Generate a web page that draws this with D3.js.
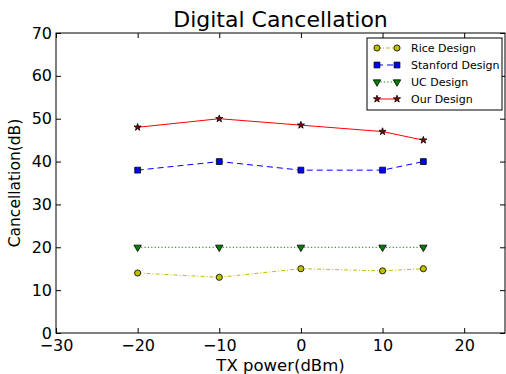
<!DOCTYPE html>
<html>
<head>
<meta charset="utf-8">
<script src="https://cdn.jsdelivr.net/npm/d3@7"></script>
<style>
  body { margin: 0; background: #fff; }
  text { font-family: "DejaVu Sans", sans-serif; }
</style>
</head>
<body>
<svg id="chart" width="506" height="374"></svg>
<script>
// data
const txPower = [-20, -10, 0, 10, 15];
const riceDesign = [14, 13, 15, 14.5, 15];
const stanfordDesign = [38, 40, 38, 38, 40];
const ucDesign = [20, 20, 20, 20, 20];
const ourDesign = [48, 50, 48.5, 47, 45];
const xTicks = [-30, -20, -10, 0, 10, 20];
const yTicks = [0, 10, 20, 30, 40, 50, 60, 70];

const series = [
  {name: "Rice Design", values: riceDesign, color: "#bfbf00", dash: "4,2,1,2", marker: "circle"},
  {name: "Stanford Design", values: stanfordDesign, color: "#0000ff", dash: "6,4", marker: "square"},
  {name: "UC Design", values: ucDesign, color: "#008000", dash: "1.2,2.2", marker: "triangle"},
  {name: "Our Design", values: ourDesign, color: "#ff0000", dash: null, marker: "star"}
];

const svg = d3.select("#chart");
const margin = {left: 56, top: 33, right: 1, bottom: 41};
const W = 506 - margin.left - margin.right;
const H = 374 - margin.top - margin.bottom;

const x = d3.scaleLinear().domain([-30, 25]).range([0, W]);
const y = d3.scaleLinear().domain([0, 70]).range([H, 0]);

const g = svg.append("g").attr("transform", `translate(${margin.left},${margin.top})`);

// axes (ticks inside, on all four sides)
const tickFont = (sel) => sel.selectAll("text").attr("font-size", 16).attr("fill", "#000");
g.append("g").attr("transform", `translate(0,${H})`)
  .call(d3.axisBottom(x).tickValues(xTicks).tickSizeInner(-5).tickSizeOuter(0).tickPadding(7)
    .tickFormat(d => d < 0 ? "\u2212" + Math.abs(d) : d))
  .call(tickFont);
g.append("g")
  .call(d3.axisLeft(y).tickValues(yTicks).tickSizeInner(-5).tickSizeOuter(0).tickPadding(4))
  .call(tickFont);
g.append("g")
  .call(d3.axisTop(x).tickValues(xTicks).tickSizeInner(-5).tickSizeOuter(0).tickFormat(""));
g.append("g").attr("transform", `translate(${W},0)`)
  .call(d3.axisRight(y).tickValues(yTicks).tickSizeInner(-5).tickSizeOuter(0).tickFormat(""));
g.selectAll(".domain").remove();
g.selectAll(".tick line").attr("stroke", "#000");
g.append("rect").attr("width", W).attr("height", H)
  .attr("fill", "none").attr("stroke", "#000").attr("stroke-width", 1);

// titles
svg.append("text").attr("x", margin.left + W / 2).attr("y", 27)
  .attr("text-anchor", "middle").attr("font-size", 22).text("Digital Cancellation");
svg.append("text").attr("x", margin.left + W / 2).attr("y", 371)
  .attr("text-anchor", "middle").attr("font-size", 16.5).text("TX power(dBm)");
svg.append("text").attr("transform", `translate(20,${margin.top + H / 2}) rotate(-90)`)
  .attr("text-anchor", "middle").attr("font-size", 15.5).text("Cancellation(dB)");

const symbolType = {circle: d3.symbolCircle, square: d3.symbolSquare, triangle: d3.symbolTriangle, star: d3.symbolStar};
const symbolSize = {circle: 30, square: 34, triangle: 24, star: 16};

function drawMarker(sel, s) {
  const p = sel.append("path")
    .attr("d", d3.symbol().type(symbolType[s.marker]).size(symbolSize[s.marker])())
    .attr("fill", s.marker === "star" ? "#8b0000" : s.color)
    .attr("stroke", "#000").attr("stroke-width", 0.8);
  if (s.marker === "triangle") p.attr("transform", "rotate(180)");
  return p;
}

const line = d3.line().x((d, i) => x(txPower[i])).y(d => y(d));

series.forEach(s => {
  g.append("path").datum(s.values)
    .attr("d", line)
    .attr("fill", "none").attr("stroke", s.color).attr("stroke-width", 1)
    .attr("stroke-dasharray", s.dash);
  s.values.forEach((v, i) => {
    const m = g.append("g").attr("transform", `translate(${x(txPower[i])},${y(v)})`);
    drawMarker(m, s);
  });
});

// legend
const lg = svg.append("g").attr("transform", "translate(367,38)");
lg.append("rect").attr("width", 135).attr("height", 72)
  .attr("fill", "#fff").attr("stroke", "#000").attr("stroke-width", 1);
series.forEach((s, i) => {
  const row = lg.append("g").attr("transform", `translate(0,${10 + i * 17})`);
  row.append("line").attr("x1", 10).attr("x2", 30).attr("y1", 0).attr("y2", 0)
    .attr("stroke", s.color).attr("stroke-width", 1).attr("stroke-dasharray", s.dash);
  [10, 30].forEach(cx => drawMarker(row.append("g").attr("transform", `translate(${cx},0)`), s));
  row.append("text").attr("x", 44).attr("y", 4).attr("font-size", 11).text(s.name);
});
</script>
</body>
</html>
